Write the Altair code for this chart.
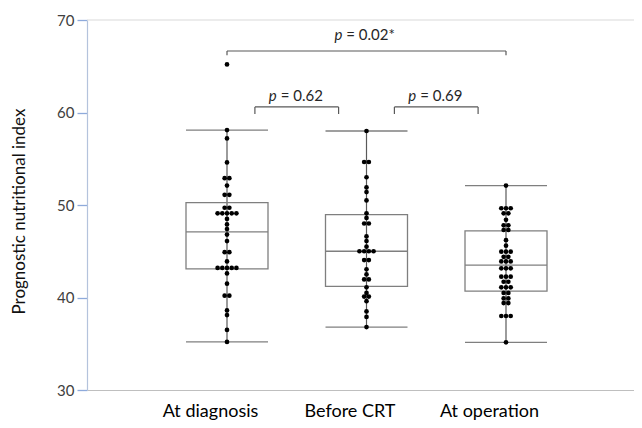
import altair as alt
import pandas as pd
from collections import Counter

# ---------------- data ----------------
categories = ["At diagnosis", "Before CRT", "At operation"]

pni_at_diagnosis = [65.2, 58.1, 57.2, 54.6, 52.9, 52.9, 52.1, 51.1, 51.1,
                    49.7, 49.7, 49.1, 49.1, 49.1, 49.1, 49.1,
                    48.5, 47.9, 47.4, 46.8, 46.1, 44.9, 44.9, 43.9,
                    43.2, 43.2, 43.2, 43.2, 43.2, 42.6, 41.5, 40.2, 40.2,
                    38.6, 38.1, 36.5, 35.2]
pni_before_crt = [58.0, 54.65, 54.65, 53.0, 51.9, 51.4, 50.5, 49.1, 48.6,
                  48.0, 48.0, 46.6, 46.1, 45.5, 45.0, 45.0, 45.0, 45.0,
                  44.05, 44.05, 43.05, 42.5, 41.95, 41.95, 41.1, 40.5,
                  40.1, 40.1, 39.6, 38.5, 37.9, 36.8]
pni_at_operation = [52.1, 49.65, 49.65, 49.65, 49.1, 49.1, 48.4, 47.8, 47.8,
                    47.3, 47.3, 46.2, 45.6, 44.95, 44.95, 44.95, 44.4, 44.4,
                    43.9, 43.9, 43.9, 43.15, 43.15, 43.15, 42.25, 42.25, 42.25,
                    41.7, 41.7, 41.1, 41.1, 41.1, 40.5, 40.5, 39.9, 39.9,
                    39.4, 39.4, 38.0, 38.0, 38.0, 35.15]

box_q1 = [43.1, 41.2, 40.7]
box_median = [47.1, 45.0, 43.5]
box_q3 = [50.25, 48.95, 47.2]
whisker_low = [35.2, 36.8, 35.15]
whisker_high = [58.1, 58.0, 52.1]

comparison_from = [0, 1, 0]
comparison_to = [1, 2, 2]
comparison_p = ["= 0.62", "= 0.69", "= 0.02*"]

y_ticks = [30, 40, 50, 60, 70]

# ---------------- layout constants ----------------
PX_PER_UNIT = 139.5
PLOT_W, PLOT_H = 547, 370
X0 = -140 / PX_PER_UNIT
X1 = X0 + PLOT_W / PX_PER_UNIT
BOX_HALF = 41 / PX_PER_UNIT
DOT_STEP = 4.7 / PX_PER_UNIT
FONT = "Lato"

groups = [pni_at_diagnosis, pni_before_crt, pni_at_operation]

# beeswarm rows: dots with equal values are spread side by side
dot_rows = []
for gi, vals in enumerate(groups):
    counts = Counter(vals)
    for v, n in counts.items():
        for k in range(n):
            dot_rows.append({"group": categories[gi], "value": v,
                             "xpos": gi + (k - (n - 1) / 2) * DOT_STEP})
dots = pd.DataFrame(dot_rows)

box = pd.DataFrame({
    "group": categories,
    "center": list(range(len(categories))),
    "q1": box_q1, "median": box_median, "q3": box_q3,
    "low": whisker_low, "high": whisker_high,
})
box["left"] = box["center"] - BOX_HALF
box["right"] = box["center"] + BOX_HALF

br_rows = []
for a, b, p in zip(comparison_from, comparison_to, comparison_p):
    wide = (b - a) > 1
    inset = 0.0 if wide else 0.2
    y = 66.65 if wide else 60.6
    tick = 0.45 if wide else 0.75
    ytext = 67.8 if wide else 61.2
    br_rows.append({"x1": a + inset, "x2": b - inset, "y": y, "ytick": y - tick,
                    "xmid": (a + b) / 2 - (0.03 if wide else 0.0), "ytext": ytext,
                    "p": "p", "rest": p})
br = pd.DataFrame(br_rows)
ticks_df = pd.concat([
    br[["x1", "y", "ytick"]].rename(columns={"x1": "x"}),
    br[["x2", "y", "ytick"]].rename(columns={"x2": "x"}),
])

xscale = alt.Scale(domain=[X0, X1], nice=False, zero=False)
yscale = alt.Scale(domain=[30, 70], nice=False, zero=False)

label_expr = "[" + ",".join("'" + c + "'" for c in categories) + "][round(datum.value)]"
x_axis = alt.Axis(values=list(range(len(categories))), labelExpr=label_expr,
                  title=None, ticks=False, tickSize=0, grid=False,
                  domainColor="#bfbfbf", domainWidth=1.2,
                  labelFont=FONT, labelFontSize=18, labelColor="#000000",
                  labelPadding=12, labelOffset=-17)
y_axis = alt.Axis(values=y_ticks, title="Prognostic nutritional index",
                  grid=False, tickSize=10, tickColor="#8eaadb", tickWidth=1.3,
                  domainColor="#b4c3dc", domainWidth=1.2,
                  labelFont=FONT, labelFontSize=15, labelColor="#404040",
                  labelPadding=3, titleFont=FONT, titleFontSize=17,
                  titleFontWeight="normal", titleColor="#111111",
                  titleX=-68, titleY=191, titleAngle=270,
                  titleBaseline="middle", titleAlign="center")


def X(field):
    return alt.X(field, type="quantitative", scale=xscale, axis=x_axis)


def Y(field):
    return alt.Y(field, type="quantitative", scale=yscale, axis=y_axis)


top_line = alt.Chart(pd.DataFrame({"v": [70]})).mark_rule(
    color="#d9d9d9", strokeWidth=1.2).encode(y=Y("v"))

whisker = alt.Chart(box).mark_rule(color="#595959", strokeWidth=1.2).encode(
    x=X("center"), y=Y("low"), y2="high")
rect = alt.Chart(box).mark_rect(fillOpacity=0, stroke="#7f7f7f",
                                strokeWidth=1.3).encode(
    x=X("left"), x2="right", y=Y("q1"), y2="q3")
median = alt.Chart(box).mark_rule(color="#7f7f7f", strokeWidth=1.3).encode(
    x=X("left"), x2="right", y=Y("median"))
cap_low = alt.Chart(box).mark_rule(color="#7f7f7f", strokeWidth=1.3).encode(
    x=X("left"), x2="right", y=Y("low"))
cap_high = alt.Chart(box).mark_rule(color="#7f7f7f", strokeWidth=1.3).encode(
    x=X("left"), x2="right", y=Y("high"))

points = alt.Chart(dots).mark_circle(size=22, color="black", opacity=1).encode(
    x=X("xpos"), y=Y("value"))

br_h = alt.Chart(br).mark_rule(color="#595959", strokeWidth=1.2).encode(
    x=X("x1"), x2="x2", y=Y("y"))
br_v = alt.Chart(ticks_df).mark_rule(color="#595959", strokeWidth=1.2).encode(
    x=X("x"), y=Y("y"), y2="ytick")
p_it = alt.Chart(br).mark_text(font=FONT, fontSize=15, fontStyle="italic",
                               color="#262626", align="right",
                               baseline="alphabetic", dx=-20).encode(
    x=X("xmid"), y=Y("ytext"), text="p")
p_rest = alt.Chart(br).mark_text(font=FONT, fontSize=15, color="#262626",
                                 align="left", baseline="alphabetic",
                                 dx=-16).encode(
    x=X("xmid"), y=Y("ytext"), text="rest")

chart = alt.layer(top_line, whisker, rect, median, cap_low, cap_high, points,
                  br_h, br_v, p_it, p_rest).properties(
    width=PLOT_W, height=PLOT_H,
    autosize=alt.AutoSizeParams(type="none"),
    padding={"left": 79, "top": 12, "right": 0, "bottom": 30},
    background="white",
).configure_view(stroke=None)

chart.save("out.html", embed_options={"renderer": "svg", "actions": False})
